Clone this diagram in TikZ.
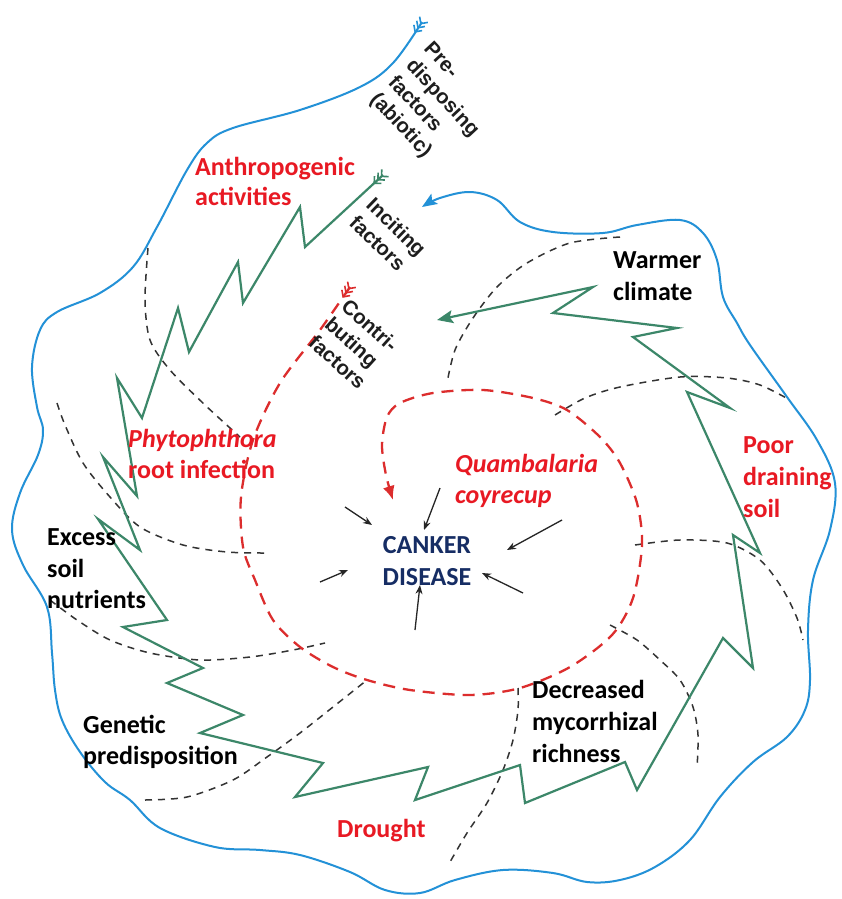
\documentclass[tikz,border=0pt]{standalone}
\usepackage{fontspec}
\setmainfont{Carlito}
\newfontfamily\arialf{Liberation Sans}
\usetikzlibrary{arrows.meta,calc}
\definecolor{bluec}{RGB}{35,145,215}
\definecolor{greenc}{RGB}{60,135,105}
\definecolor{redd}{RGB}{220,45,45}
\definecolor{redt}{RGB}{232,25,35}
\definecolor{navyc}{RGB}{22,45,100}
\definecolor{darkt}{RGB}{30,30,30}
\newcommand\fletching[4]{%
  \begin{scope}[shift={(#2,#3)}, rotate=#4]
    \foreach \a in {2,7,12}{\draw[#1, line width=1.6pt] (\a-5,5) -- (\a,0) -- (\a-5,-5);}
  \end{scope}}
\begin{document}
\begin{tikzpicture}[x=1pt,y=-1pt,
  bluepath/.style={draw=bluec, line width=2pt},
  greenpath/.style={draw=greenc, line width=2.2pt, line join=miter},
  redpath/.style={draw=redd, line width=2.3pt, dash pattern=on 12pt off 8pt},
  blackdash/.style={draw=black!80, line width=1.5pt, dash pattern=on 7pt off 6pt},
  inarrow/.style={draw=black!85, line width=1.3pt, -{Stealth[length=9pt,width=7pt]}},
  lab/.style={anchor=base west, inner sep=0pt, font=\fontsize{26}{31}\selectfont\bfseries},
  redlab/.style={lab, text=redt},
  blklab/.style={lab, text=black},
  rotlab/.style={anchor=north west, inner sep=0pt, align=left, font=\arialf\fontsize{20.5}{24.5}\selectfont\bfseries, text=darkt}]
\useasboundingbox (0,0) rectangle (842,899);
\fill[white] (0,0) rectangle (842,899);

% black dashed sector lines
\draw[blackdash] plot[smooth] coordinates {(148,248) (145,300) (150,340) (170,370) (205,405) (240,437)};
\draw[blackdash] plot[smooth] coordinates {(57,403) (65,425) (83,463) (110,497) (140,527) (183,545) (227,552) (267,553)};
\draw[blackdash] plot[smooth] coordinates {(50,600) (77,620) (110,640) (150,653) (200,660) (250,657) (293,650) (325,643)};
\draw[blackdash] plot[smooth] coordinates {(145,800) (187,797) (233,780) (267,757) (300,733) (333,707) (367,680)};
\draw[blackdash] plot[smooth] coordinates {(518,688) (518,710) (513,740) (503,770) (487,803) (467,833) (450,862)};
\draw[blackdash] plot[smooth] coordinates {(610,625) (637,640) (660,660) (680,680) (693,707) (698,735) (697,768)};
\draw[blackdash] plot[smooth] coordinates {(635,545) (680,540) (727,543) (760,560) (782,588) (797,618) (803,640)};
\draw[blackdash] plot[smooth] coordinates {(555,415) (585,398) (620,387) (680,377) (727,378) (760,385) (790,400)};
\draw[blackdash] plot[smooth] coordinates {(620,237) (570,243) (527,263) (497,287) (473,318) (455,350) (447,383)};

% blue outer spiral (predisposing)
\draw[bluepath, -{Stealth[length=15pt,width=12pt,inset=3pt]}] plot[smooth, tension=0.6] coordinates {(422,22) (393,63) (360,87) (300,110) (233,128) (207,143) (187,170) (157,227) (133,267) (100,293) (57,312) (40,330) (32,367) (37,407) (43,430) (38,455) (20,493) (12,530) (23,565) (47,607) (52,653) (55,690) (62,720) (80,752) (105,782) (130,800) (160,828) (215,847) (260,850) (300,855) (350,872) (385,890) (420,893) (455,880) (503,870) (553,873) (587,882) (620,880) (655,867) (690,840) (720,797) (753,762) (787,737) (805,710) (810,680) (808,630) (813,580) (830,530) (835,483) (817,440) (787,397) (750,345) (737,323) (723,297) (717,260) (703,233) (680,220) (637,225) (603,233) (553,232) (520,222) (497,200) (470,192) (440,198) (422,207)};
\fletching{bluec}{422}{22}{-125}

% green zigzag spiral (inciting)
\draw[greenpath, -{Stealth[length=16pt,width=13pt,inset=3pt]}] (383,175) -- (305,247) -- (300,207) -- (243,303) -- (238,262) -- (189,352) -- (178,308) -- (142,418) -- (117,378) -- (137,496) -- (103,457) -- (140,550) -- (98,519) -- (167,620) -- (123,627) -- (203,668) -- (167,683) -- (243,715) -- (200,733) -- (323,763) -- (295,797) -- (428,767) -- (415,800) -- (520,765) -- (525,803) -- (625,762) -- (637,790) -- (723,638) -- (753,668) -- (733,535) -- (760,553) -- (687,392) -- (730,408) -- (633,337) -- (677,328) -- (553,313) -- (593,287) -- (437,320);
\fletching{greenc}{383}{175}{-137}

% red dashed spiral (contributing)
\draw[redpath, -{Latex[length=14pt,width=12pt]}] plot[smooth] coordinates {(350,287) (320,330) (280,383) (253,440) (241,497) (243,547) (255,580) (273,620) (300,647) (333,667) (367,680) (410,690) (470,695) (520,688) (570,667) (612,635) (633,598) (642,545) (637,503) (620,463) (600,437) (567,410) (533,398) (483,390) (433,393) (400,403) (387,417) (382,445) (386,475) (393,500)};
\fletching{redd}{350}{287}{-125}

% centre
\node[anchor=base, inner sep=0pt, font=\fontsize{26}{31}\selectfont\bfseries, text=navyc] (canker1) at (427,553) {CANKER};
\node[anchor=base, inner sep=0pt, font=\fontsize{26}{31}\selectfont\bfseries, text=navyc] (canker2) at (427,585) {DISEASE};
\coordinate (a1s) at (345,507); \coordinate (a1e) at (372,525);
\coordinate (a2s) at (440,488); \coordinate (a2e) at (424,530);
\coordinate (a3s) at (562,520); \coordinate (a3e) at (507,550);
\coordinate (a4s) at (523,593); \coordinate (a4e) at (482,573);
\coordinate (a5s) at (415,630); \coordinate (a5e) at (420,585);
\coordinate (a6s) at (320,582); \coordinate (a6e) at (348,570);
\draw[inarrow] (a1s) -- (a1e);
\draw[inarrow] (a2s) -- (a2e);
\draw[inarrow] (a3s) -- (a3e);
\draw[inarrow] (a4s) -- (a4e);
\draw[inarrow] (a5s) -- (a5e);
\draw[inarrow] (a6s) -- (a6e);

% red labels
\node[redlab] (anth1) at (195,175) {Anthropogenic};
\node[redlab] (anth2) at (195,205) {activities};
\node[redlab] (phyt1) at (128,447) {\itshape Phytophthora};
\node[redlab] (phyt2) at (128,478) {root infection};
\node[redlab] (quam1) at (455,472) {\itshape Quambalaria};
\node[redlab] (quam2) at (455,503) {\itshape coyrecup};
\node[redlab] (poor1) at (743,453) {Poor};
\node[redlab] (poor2) at (743,485) {draining};
\node[redlab] (poor3) at (743,517) {soil};
\node[redlab] (drou) at (337,837) {Drought};

% black labels
\node[blklab] (exc1) at (47,545) {Excess};
\node[blklab] (exc2) at (47,577) {soil};
\node[blklab] (exc3) at (47,608) {nutrients};
\node[blklab] (gen1) at (83,733) {Genetic};
\node[blklab] (gen2) at (83,764) {predisposition};
\node[blklab] (dec1) at (532,698) {Decreased};
\node[blklab] (dec2) at (532,730) {mycorrhizal};
\node[blklab] (dec3) at (532,762) {richness};
\node[blklab] (warm1) at (613,268) {Warmer};
\node[blklab] (warm2) at (613,300) {climate};

% rotated factor labels
\node[rotlab, rotate=-47] (pre) at (433.5,40) {Pre-\\disposing\\factors\\(abiotic)};
\node[rotlab, rotate=-44] (inc) at (375.5,196) {Inciting\\factors};
\node[rotlab, rotate=-42] (con) at (350,297) {Contri-\\buting\\factors};
\end{tikzpicture}
\end{document}
